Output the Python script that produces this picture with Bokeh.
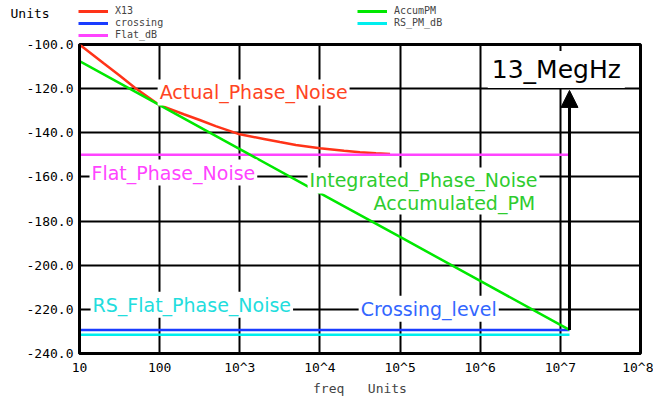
from bokeh.plotting import figure
from bokeh.layouts import column
from bokeh.models import (Range1d, FixedTicker, PrintfTickFormatter, Legend, LegendItem,
                          Label, Arrow, NormalHead)
from bokeh.embed import file_html
from bokeh.resources import INLINE

# ---- data ----
x13_freq = [10, 20, 31.6, 50, 100, 200, 316, 500, 1000, 2000, 3162, 5000,
            1e4, 2e4, 3.16e4, 5e4, 7.5e4]
x13_db = [-100.0, -108.5, -114.0, -119.8, -127.5, -131.6, -134.2, -137.0, -140.7,
          -142.8, -144.2, -145.5, -147.0, -148.1, -148.8, -149.3, -149.6]
accum_freq = [10, 100, 1e3, 1e4, 1e5, 1e6, 1e7, 1.3e7]
accum_db = [-107.5, -127.5, -147.4, -167.3, -187.2, -207.1, -227.0, -229.3]
span_freq = [10, 1.3e7]
flat_db = [-150.0, -150.0]
crossing_db = [-229.3, -229.3]
rs_pm_db = [-231.5, -231.5]
cross_freq = 1.3e7
arrow_top_db = -120.8

x_ticks = [10, 100, 1000, 10000, 100000, 1000000, 10000000, 100000000]
x_tick_labels = ["10", "100", "10^3", "10^4", "10^5", "10^6", "10^7", "10^8"]
y_ticks = [-240, -220, -200, -180, -160, -140, -120, -100]

legend_labels = ["X13", "crossing", "Flat_dB", "AccumPM", "RS_PM_dB"]

RED = "#ff3318"
GREEN = "#00e800"
BLUE = "#1a3cff"
MAGENTA = "#ff44ff"
CYAN = "#00eeee"
MONO = "DejaVu Sans Mono"
SANS = "DejaVu Sans"
NAN = float("nan")

# ---------------- header with the legend ----------------
HW, HH = 653, 42
OVERLAP = 6
header = figure(width=HW, height=HH, x_range=Range1d(0, HW), y_range=Range1d(HH, 0),
                x_axis_type=None, y_axis_type=None, output_backend="svg",
                toolbar_location=None, min_border=0)
header.frame_align = False
header.outline_line_color = None
header.background_fill_color = "white"
header.border_fill_color = "white"

h_lw = 3
# legend proxies (no visible data; they only carry the line styles)
proxies = [header.line([NAN], [NAN], line_color=c, line_width=h_lw)
           for c in (RED, BLUE, MAGENTA, GREEN, CYAN)]
# (left edge of swatch, row centre measured from the top of the page)
slots = [(78, 10.5), (78, 22.5), (78, 34.5), (357, 10.5), (357, 22.5)]
ROW_H = 14
for lab, r, (lx, cy) in zip(legend_labels, proxies, slots):
    header.add_layout(Legend(items=[LegendItem(label=lab, renderers=[r])],
                             location=(lx, HH - cy - ROW_H / 2), orientation="vertical",
                             label_text_font=MONO, label_text_font_size="10px",
                             label_height=ROW_H, glyph_height=ROW_H, glyph_width=30,
                             label_standoff=7, spacing=0, padding=0, margin=0,
                             border_line_color=None, background_fill_alpha=0), "center")

header.add_layout(Label(x=10, y=12.5, text="Units", text_font=MONO,
                        text_font_size="13px", text_baseline="middle",
                        text_align="left", text_color="black"))

# ---------------- main plot ----------------
p = figure(width=653, height=403 - HH + OVERLAP, x_axis_type="log",
           x_range=Range1d(10, 1e8), y_range=Range1d(-240, -100),
           output_backend="svg", toolbar_location=None,
           min_border_left=79, min_border_right=13, min_border_top=8, min_border_bottom=50)
p.margin = (-OVERLAP, 0, 0, 0)

p.outline_line_color = "black"
p.outline_line_width = 3
p.background_fill_color = "white"
p.border_fill_color = None

for g in p.grid:
    g.grid_line_color = "black"
    g.grid_line_width = 2
p.xgrid.ticker = FixedTicker(ticks=x_ticks)
p.ygrid.ticker = FixedTicker(ticks=y_ticks)

xa = p.xaxis[0]
xa.ticker = FixedTicker(ticks=x_ticks)
xa.major_label_overrides = {t: l for t, l in zip(x_ticks, x_tick_labels)}
ya = p.yaxis[0]
ya.ticker = FixedTicker(ticks=y_ticks)
ya.formatter = PrintfTickFormatter(format="%.1f")
for ax in (xa, ya):
    ax.axis_line_color = "black"
    ax.axis_line_width = 3
    ax.major_tick_out = 0
    ax.major_tick_in = 0
    ax.minor_tick_line_color = None
    ax.major_tick_line_color = None
    ax.major_label_text_font = MONO
    ax.major_label_text_font_size = "13px"
    ax.major_label_text_color = "black"
    ax.major_label_standoff = 6
xa.axis_label = "freq\u00a0\u00a0\u00a0Units"
xa.axis_label_text_font = MONO
xa.axis_label_text_font_size = "13px"
xa.axis_label_text_font_style = "normal"
xa.axis_label_standoff = 3

lw = 2.5
r_x13 = p.line(x13_freq, x13_db, line_color=RED, line_width=lw)
r_flat = p.line(span_freq, flat_db, line_color=MAGENTA, line_width=lw)
r_rs = p.line(span_freq, rs_pm_db, line_color=CYAN, line_width=lw)
r_cross = p.line(span_freq, crossing_db, line_color=BLUE, line_width=lw)
r_acc = p.line(accum_freq, accum_db, line_color=GREEN, line_width=lw)


def ann(x, y, text, color, size="19px", pad=2):
    p.add_layout(Label(x=x, y=y, text=text, text_color=color, text_font=SANS,
                       text_font_size=size, text_baseline="middle", text_align="left",
                       text_line_height=1.0, background_fill_color="white", padding=pad))


ann(10 ** 1.975, -121.7, "Actual_Phase_Noise", "#ff4422")
ann(10 ** 1.125, -158.0, "Flat_Phase_Noise", "#ff44ff")
ann(10 ** 3.846, -161.6, "Integrated_Phase_Noise", "#2ecc2e")
ann(10 ** 4.67, -172.0, "Accumulated_PM", "#2ecc2e", pad=0)
ann(10 ** 1.138, -217.9, "RS_Flat_Phase_Noise", "#22dddd")
ann(10 ** 4.483, -219.7, "Crossing_level", "#3366ff")

p.add_layout(Arrow(end=NormalHead(size=17, fill_color="black", line_color="black"),
                   x_start=cross_freq, y_start=crossing_db[0],
                   x_end=cross_freq, y_end=arrow_top_db,
                   line_color="black", line_width=3))

p.add_layout(Label(x=10 ** 6.094, y=-111.3, text="13_MegHz", text_color="black",
                   text_font=SANS, text_font_size="25px", text_baseline="middle",
                   text_align="left", background_fill_color="white", padding=4))

layout = column(header, p, spacing=0)
open("out.html", "w").write(file_html(layout, INLINE))
